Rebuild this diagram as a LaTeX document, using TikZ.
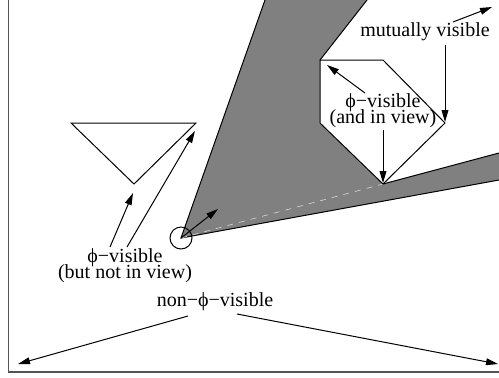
\documentclass[tikz,border=0pt]{standalone}
\usepackage{fontspec}
\setmainfont{Liberation Serif}
\usepackage{tikz}
\usetikzlibrary{arrows.meta,positioning}
\definecolor{shadowgray}{HTML}{808080}
\definecolor{framegray}{HTML}{555555}
\newcommand{\tightlines}{\lineskiplimit=-20pt\relax}

\begin{document}
\begin{tikzpicture}[x=0.5pt,y=-0.5pt,line width=0.5pt,
    lbl/.style={font={\fontsize{10}{8}\selectfont\tightlines},align=center,inner sep=0pt},
    pointer/.style={-{Triangle[length=6pt,width=3.4pt]}}]
  \useasboundingbox (0,0) rectangle (499,377);
  % corners of the shadow, the obstacles and the view point
  \coordinate (eye) at (181,238);
  \coordinate (s1) at (265,0);   \coordinate (s2) at (367,0);
  \coordinate (s3) at (499,153); \coordinate (s4) at (499,180);
  \coordinate (p1) at (320,60);  \coordinate (p2) at (383,60);
  \coordinate (p3) at (445,123); \coordinate (p4) at (383,184);
  \coordinate (p5) at (320,123);
  \coordinate (t1) at (71,123);  \coordinate (t2) at (196,123);
  \coordinate (t3) at (134,184);
  \fill[shadowgray] (eye)--(s1)--(s2)--(p1)--(p5)--(p4)--(s3)--(s4)--cycle;
  \draw (s1)--(eye)--(s4) (s2)--(p1) (p4)--(s3);
  \draw[white!70!shadowgray,dashed,line width=0.3pt] (eye)--(p4);
  \draw[fill=white] (p1)--(p2)--(p3)--(p4)--(p5)--cycle;
  \draw (t1)--(t2)--(t3)--cycle;
  \node[draw,circle,minimum size=11pt,inner sep=0pt] (spot) at (eye) {};
  \draw[framegray,line width=0.8pt] (8.5,0)--(8.5,372)--(499,372);
  % labels
  \node[lbl] (butnot) at (125,266) {ϕ−visible\\(but not in view)};
  \node[lbl] (andin) at (383,111) {ϕ−visible\\(and in view)};
  \node[lbl] (mutual) at (425,32) {mutually visible};
  \node[lbl] (nonphi) at (215,302) {non−ϕ−visible};
  % arrows
  \coordinate (a1) at (110,247); \coordinate (b1) at (133,193);
  \coordinate (a2) at (127,247); \coordinate (b2) at (195,131);
  \coordinate (b3) at (218,209);
  \coordinate (a4) at (365,93);  \coordinate (b4) at (327,65);
  \coordinate (a5) at (383,130); \coordinate (b5) at (383,183);
  \coordinate (a6) at (453,22);  \coordinate (b6) at (492,7);
  \coordinate (a7) at (445,45);  \coordinate (b7) at (445,122);
  \coordinate (a8) at (188,316); \coordinate (b8) at (18,364);
  \coordinate (a9) at (237,314); \coordinate (b9) at (498,364);
  \draw[pointer] (a1)--(b1);
  \draw[pointer] (a2)--(b2);
  \draw[pointer] (eye)--(b3);
  \draw[pointer] (a4)--(b4);
  \draw[pointer] (a5)--(b5);
  \draw[pointer] (a6)--(b6);
  \draw[pointer] (a7)--(b7);
  \draw[pointer] (a8)--(b8);
  \draw[pointer] (a9)--(b9);
\end{tikzpicture}
\end{document}
